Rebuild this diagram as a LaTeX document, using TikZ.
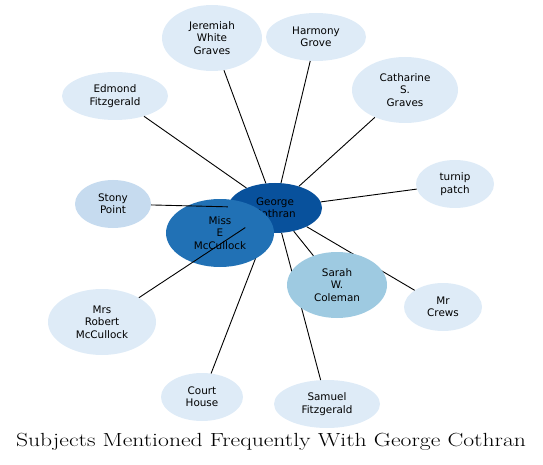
\documentclass[tikz,border=0pt]{standalone}
\usepackage{fontspec}
\newfontfamily\nodefont{DejaVu Sans}
\usetikzlibrary{shapes.geometric}
\definecolor{light}{HTML}{DEEBF7}
\definecolor{lightb}{HTML}{C6DBEF}
\definecolor{mid}{HTML}{9ECAE1}
\definecolor{dark}{HTML}{2171B5}
\definecolor{darkest}{HTML}{08519C}
\tikzset{
  ent/.style={ellipse, inner sep=0pt, align=center, font=\nodefont\fontsize{10.4}{12.4}\selectfont, text=black},
  edge/.style={draw=black, line width=0.9pt},
}
\begin{document}
\begin{tikzpicture}[x=1pt,y=-1pt]
\useasboundingbox (0,0) rectangle (543,465);
\node[ent, fill=darkest, minimum width=94pt, minimum height=50pt] (george) at (275,208) {George\\Cothran};
\node[ent, fill=light, minimum width=100pt, minimum height=66pt] (jer) at (212,38) {Jeremiah\\White\\Graves};
\node[ent, fill=light, minimum width=100pt, minimum height=48pt] (harm) at (316,37) {Harmony\\Grove};
\node[ent, fill=light, minimum width=106pt, minimum height=48pt] (edm) at (115,96) {Edmond\\Fitzgerald};
\node[ent, fill=light, minimum width=106pt, minimum height=66pt] (cath) at (405,90) {Catharine\\S.\\Graves};
\node[ent, fill=light, minimum width=78pt, minimum height=48pt] (turn) at (455,184) {turnip\\patch};
\node[ent, fill=lightb, minimum width=76pt, minimum height=48pt] (stony) at (113,204) {Stony\\Point};
\node[ent, fill=light, minimum width=78pt, minimum height=48pt] (crews) at (443,307) {Mr\\Crews};
\node[ent, fill=light, minimum width=108pt, minimum height=66pt] (mrs) at (102,322) {Mrs\\Robert\\McCullock};
\node[ent, fill=light, minimum width=82pt, minimum height=48pt] (court) at (202,397) {Court\\House};
\node[ent, fill=light, minimum width=106pt, minimum height=48pt] (sam) at (327,404) {Samuel\\Fitzgerald};
\draw[edge] (court) -- (george);
\draw[edge] (jer) -- (george);
\draw[edge] (harm) -- (george);
\draw[edge] (cath) -- (george);
\draw[edge] (turn) -- (george);
\draw[edge] (edm) -- (george);
\draw[edge] (sam) -- (george);
\draw[edge] (crews) -- (george);
\node[ent, fill=mid, minimum width=100pt, minimum height=66pt] (sarah) at (337,285) {Sarah\\W.\\Coleman};
\draw[edge] (sarah) -- (george);
\node[ent, fill=dark, minimum width=108pt, minimum height=68pt] (misse) at (220,233) {Miss\\E\\McCullock};
\draw[edge] (stony) -- (george);
\draw[edge] (mrs) -- (george);
\node[font=\fontsize{19}{21}\selectfont, xscale=1.245] (title) at (271,442) {Subjects Mentioned Frequently With George Cothran};
\end{tikzpicture}
\end{document}
